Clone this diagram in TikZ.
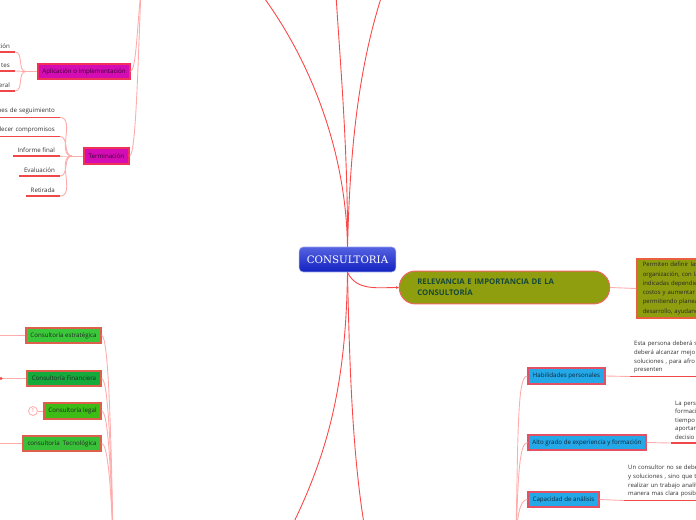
\documentclass[tikz,border=0pt]{standalone}
\usepackage{fontspec}
\setmainfont{Open Sans}
\newfontfamily\slabfont{DejaVu Serif}
\usetikzlibrary{arrows.meta,positioning}
\definecolor{branchred}{RGB}{250,72,72}
\definecolor{twigred}{RGB}{255,172,172}
\definecolor{rulered}{RGB}{240,72,72}
\definecolor{centtop}{RGB}{84,98,226}
\definecolor{centbot}{RGB}{18,34,190}
\definecolor{topicolive}{RGB}{143,158,15}
\definecolor{topictext}{RGB}{22,72,58}
\definecolor{edgered}{RGB}{240,100,100}
\definecolor{noteedge}{RGB}{232,96,64}
\definecolor{magfill}{RGB}{212,12,180}
\definecolor{magedge}{RGB}{240,50,90}
\definecolor{magtext}{RGB}{60,0,50}
\definecolor{skyfill}{RGB}{36,168,232}
\definecolor{skyedge}{RGB}{228,80,100}
\definecolor{skytext}{RGB}{16,40,56}
\definecolor{grnedge}{RGB}{222,96,76}
\definecolor{grnA}{RGB}{58,200,58}
\definecolor{grnB}{RGB}{20,170,60}
\definecolor{grnC}{RGB}{60,188,20}
\definecolor{grnD}{RGB}{56,192,56}
\definecolor{leaftext}{RGB}{50,50,50}
\tikzset{
  centre/.style={rounded corners=4, draw=centtop!60!white, line width=.6, top color=centtop,
              bottom color=centbot, text=white, font=\slabfont\fontsize{10.3}{12}\selectfont,
              minimum width=97, minimum height=25, inner sep=0pt},
  topic/.style={rounded corners=16, draw=edgered, line width=1, fill=topicolive, text=topictext,
              font=\fontsize{7.8}{11}\selectfont\bfseries, text width=175, align=left,
              inner xsep=18, inner ysep=0pt, minimum height=33},
  notebox/.style={draw=noteedge, line width=1.6, fill=topicolive, text=black!85,
              font=\fontsize{6}{9.3}\selectfont, text width=120, align=left,
              inner xsep=6, inner ysep=3.5, minimum height=59},
  box/.style={line width=1.6, font=\fontsize{6.2}{7}\selectfont, inner sep=0pt, minimum height=15.5},
  magbox/.style={box, draw=magedge, fill=magfill, text=magtext},
  grnbox/.style={box, draw=grnedge, fill=#1, text=black!85},
  skybox/.style={box, draw=skyedge, fill=skyfill, text=skytext},
  leaf/.style={font=\fontsize{6.2}{7}\selectfont, text=leaftext, inner xsep=5, inner ysep=3.3,
              anchor=south east},
  note/.style={font=\fontsize{6}{8.6}\selectfont, text=leaftext, inner xsep=4, inner ysep=3.3,
              text width=#1, align=left, anchor=south west},
  badge/.style={circle, draw=twigred, text=branchred!70, line width=.8, inner sep=0pt,
              minimum size=9, font=\fontsize{5.5}{6}\selectfont},
  wire/.style={draw=branchred, line width=.9},
  twig/.style={draw=twigred, line width=.9},
  uline/.style={draw=rulered, line width=1.1},
}
\begin{document}
\begin{tikzpicture}[x=1bp,y=-1bp]
\useasboundingbox (0,0) rectangle (696,520);
\clip (0,0) rectangle (696,520);

\node[centre] (cons) at (347.5,259.5) {CONSULTORIA};
\node[topic] (rel) at (504.5,287.5) {RELEVANCIA E IMPORTANCIA DE LA\\CONSULTORÍA};
\node[notebox,anchor=west] (perm) at (636,288.5) {Permiten definir las\\organización, con la\\indicadas dependie\\costos y aumentar l\\permitiendo planea\\desarrollo, ayudand};

\node[skybox,minimum width=77] (hab) at (566.5,376) {Habilidades personales};
\node[skybox,minimum width=118] (alto) at (587,442.5) {Alto grado de experiencia y formación};
\node[skybox,minimum width=71] (anal) at (563.5,499.5) {Capacidad de análisis};
\node[note=80] (habtxt) at (630,376.5) {Esta persona deberá s\\deberá alcanzar mejo\\soluciones , para afro\\presenten};
\node[note=40] (altotxt) at (671,443) {La pers\\formaci\\tiempo\\aportar\\decisio};
\node[note=100] (analtxt) at (624,500.5) {Un consultor no se debe\\y soluciones , sino que ta\\realizar un trabajo analít\\manera mas clara posib};

\node[magbox,minimum width=92] (apl) at (84,71.5) {Aplicación o Implementación};
\node[magbox,minimum width=45] (term) at (106.5,156) {Terminación};
\node[leaf,text width=20,align=right] (apl1) at (15,52) {ción};
\node[leaf,text width=20,align=right] (apl2) at (15,71) {tes};
\node[leaf,text width=20,align=right] (apl3) at (15,91) {eral};
\node[leaf,text width=70,align=right] (term1) at (60,117.5) {nes de seguimiento};
\node[leaf,text width=70,align=right] (term2) at (60,136.5) {elecer compromisos};
\node[leaf] (term3) at (60,156) {Informe final};
\node[leaf] (term4) at (60,176) {Evaluación};
\node[leaf] (term5) at (60,196) {Retirada};

\node[grnbox=grnA,minimum width=75] (estr) at (63.5,335.5) {Consultoría estratégica};
\node[grnbox=grnB,minimum width=74] (fin) at (64,378.5) {Consultoría Financiera};
\node[grnbox=grnC,minimum width=57] (legal) at (72.5,411) {Consultoría legal};
\node[grnbox=grnD,minimum width=78] (tec) at (62,443.5) {consultoría~ Tecnológica};
\node[badge] (num) at (33,411) {1};

\coordinate (upA) at (262,-5);
\coordinate (upB) at (336,-5);
\coordinate (upC) at (382,-5);
\coordinate (downA) at (290,530);
\coordinate (downB) at (365,530);
\coordinate (skyroot) at (516,540);
\coordinate (grnroot) at (113,540);
\coordinate (magroot) at (141,-10);
\coordinate (aplfork) at (26,71.5);
\coordinate (termfork) at (72,156);
\coordinate (estrend) at (-5,335.5);
\coordinate (finend) at (1,378.5);
\coordinate (tecend) at (-5,443.5);

\draw[wire] (cons.north) .. controls (346,150) and (310,60) .. (upA);
\draw[wire] (cons.north) .. controls (348,150) and (340,60) .. (upB);
\draw[wire] (cons.north) .. controls (350,150) and (358,70) .. (upC);
\draw[wire] (cons.south) .. controls (346,380) and (330,450) .. (downA);
\draw[wire] (cons.south) .. controls (350,400) and (355,470) .. (downB);
\draw[wire,-{Stealth[length=3,width=3]}] (cons.south) to[out=-65,in=180] (rel.west);
\draw[twig] (rel.east) -- (perm.west);

\draw[twig] (skyroot) .. controls (518,420) and (518,376) .. (hab.west);
\draw[twig] (skyroot) .. controls (518,480) and (519,442.5) .. (alto.west);
\draw[twig] (skyroot) .. controls (517,520) and (519,499.5) .. (anal.west);
\draw[twig] (hab.east) -- (habtxt.south west);
\draw[twig] (alto.east) -- (altotxt.south west);
\draw[twig] (anal.east) -- (analtxt.south west);
\draw[uline] (habtxt.south west) -- (habtxt.south east);
\draw[uline] (altotxt.south west) -- (altotxt.south east);
\draw[uline] (analtxt.south west) -- (analtxt.south east);

\draw[twig] (apl.east) .. controls (136,70) and (137,30) .. (magroot);
\draw[twig] (term.east) .. controls (136,155) and (138,60) .. (magroot);
\draw[twig] (apl.west) -- (aplfork);
\draw[twig] (term.west) -- (termfork);
\foreach \lf in {apl1,apl2,apl3} {
  \draw[twig] (aplfork) to[out=180,in=0] (\lf.south east);
  \draw[uline] (\lf.south west) -- (\lf.south east);
}
\foreach \lf in {term1,term2,term3,term4,term5} {
  \draw[twig] (termfork) to[out=180,in=0] (\lf.south east);
  \draw[uline] (\lf.south west) -- (\lf.south east);
}

\draw[twig] (grnroot) .. controls (111,420) and (108,335.5) .. (estr.east);
\draw[twig] (grnroot) .. controls (111,450) and (108,378.5) .. (fin.east);
\draw[twig] (grnroot) .. controls (111,470) and (108,411) .. (legal.east);
\draw[twig] (grnroot) .. controls (111,490) and (108,443.5) .. (tec.east);
\draw[twig] (estr.west) -- (estrend);
\draw[twig] (fin.west) -- (finend);
\fill[branchred] (finend) circle (1.6);
\draw[twig] (tec.west) -- (tecend);
\draw[twig] (num) -- (legal.west);
\end{tikzpicture}
\end{document}
